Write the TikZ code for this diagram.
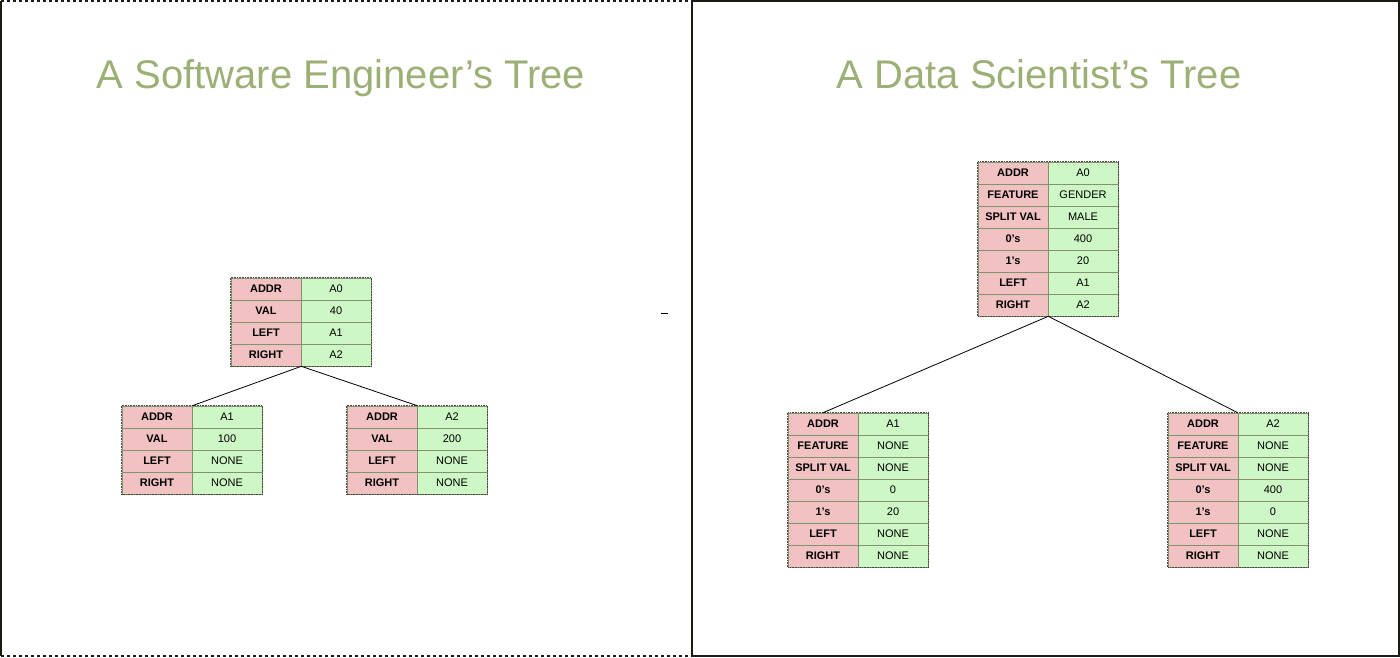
\documentclass[tikz,border=0pt]{standalone}
\usepackage{fontspec}
\setmainfont{Liberation Sans}
\definecolor{keypink}{RGB}{242,194,194}
\definecolor{valgreen}{RGB}{206,247,198}
\definecolor{titlegreen}{RGB}{156,176,117}
\definecolor{cellline}{RGB}{130,145,110}
\definecolor{frameline}{RGB}{25,28,20}
\tikzset{
  cellbase/.style={draw=cellline, line width=0.6pt, minimum width=70pt, minimum height=22pt, inner sep=0pt, text=black, font=\fontsize{11}{12}\selectfont},
  keycell/.style={cellbase, fill=keypink, font=\fontsize{11}{12}\selectfont\bfseries},
  valcell/.style={cellbase, fill=valgreen},
  outerbox/.style={draw=frameline!80, line width=0.7pt, dash pattern=on 1pt off 0.6pt},
  edge/.style={draw=black, line width=0.8pt},
  titletext/.style={text=titlegreen, font=\fontsize{40}{46}\selectfont, anchor=base},
  panel/.style={draw=frameline, line width=2pt}
}
\newcommand\dtable[5]{%
  \foreach \k/\v [count=\i] in {#5} {
    \node[keycell] (#1-k\i) at ({#2+35},{#3-11+22*\i}) {\k};
    \node[valcell] (#1-v\i) at ({#2+105},{#3-11+22*\i}) {\v};
  }
  \draw[outerbox] (#1-k1.north west) rectangle (#1-v#4.south east);
}
\begin{document}
\begin{tikzpicture}[x=1pt,y=-1pt]
\useasboundingbox (0,0) rectangle (1400,657);
% panels
\draw[panel] (1,656) -- (1,1);
\draw[panel, dash pattern=on 3pt off 3pt] (1,1) -- (692,1);
\draw[panel, dash pattern=on 3pt off 3pt] (1,656) -- (692,656);
\draw[panel] (692,1) -- (692,656);
\draw[panel] (692,1) rectangle (1399,656);
\draw[line width=1pt] (661,313) -- (668,313);
% titles
\node[titletext] (t-left) at (341,88) {A Software Engineer’s Tree};
\node[titletext] (t-right) at (1039,88) {A Data Scientist’s Tree};
% software engineer's tree
\dtable{sa}{231}{278}{4}{ADDR/A0, VAL/40, LEFT/A1, RIGHT/A2}
\dtable{sb}{122}{406}{4}{ADDR/A1, VAL/100, LEFT/NONE, RIGHT/NONE}
\dtable{sc}{347}{406}{4}{ADDR/A2, VAL/200, LEFT/NONE, RIGHT/NONE}
\draw[edge] (sa-k4.south east) -- (sb-k1.north east);
\draw[edge] (sa-k4.south east) -- (sc-k1.north east);
% data scientist's tree
\dtable{da}{978}{162}{7}{ADDR/A0, FEATURE/GENDER, SPLIT VAL/MALE, 0's/400, 1's/20, LEFT/A1, RIGHT/A2}
\dtable{db}{788}{413}{7}{ADDR/A1, FEATURE/NONE, SPLIT VAL/NONE, 0's/0, 1's/20, LEFT/NONE, RIGHT/NONE}
\dtable{dc}{1168}{413}{7}{ADDR/A2, FEATURE/NONE, SPLIT VAL/NONE, 0's/400, 1's/0, LEFT/NONE, RIGHT/NONE}
\draw[edge] (da-k7.south east) -- (db-k1.north);
\draw[edge] (da-k7.south east) -- (dc-v1.north west);
\end{tikzpicture}
\end{document}
